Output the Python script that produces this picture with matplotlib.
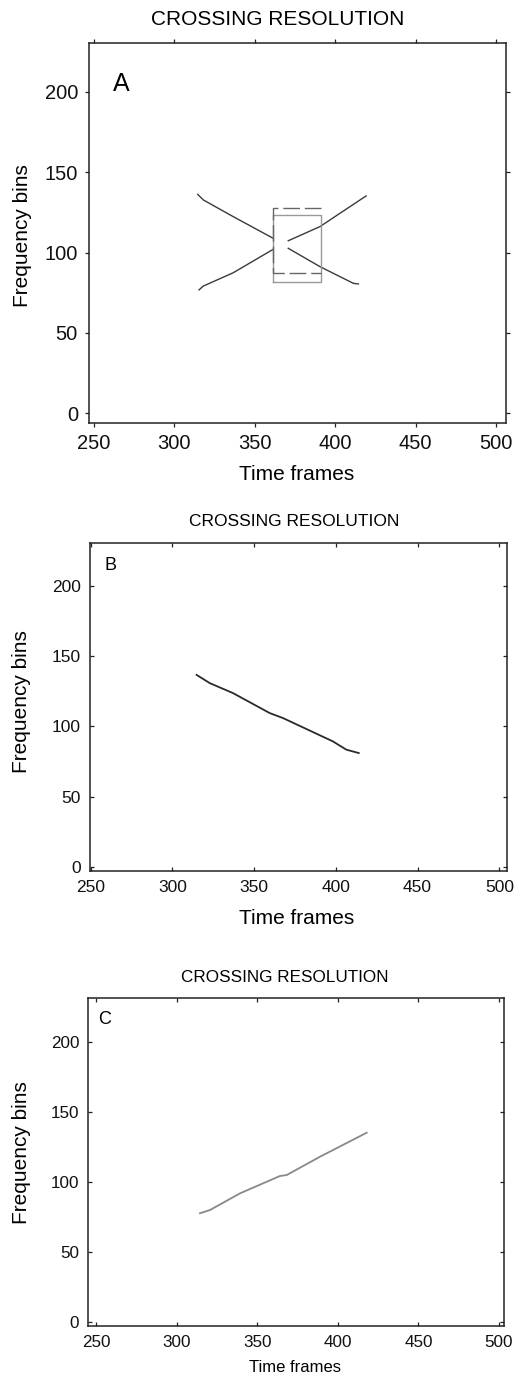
import matplotlib
matplotlib.use("Agg")
import matplotlib.pyplot as plt

plt.rcParams['font.family'] = ['Liberation Sans', 'DejaVu Sans']

W, H = 515, 1376

title = "CROSSING RESOLUTION"
xlab = "Time frames"
ylab = "Frequency bins"
xticks = [250, 300, 350, 400, 450, 500]
yticks = [0, 50, 100, 150, 200]

# panel A: the two crossing tracks, broken around the crossing
a_down_left_x = [314.5, 318, 336.6, 361.5]
a_down_left_y = [136.3, 132.8, 122.4, 108.9]
a_up_left_x = [315.3, 318, 336.6, 361.5]
a_up_left_y = [76.8, 79.2, 87.5, 102.1]
a_up_right_x = [370.8, 390.5, 419.2]
a_up_right_y = [107.4, 116.2, 135.3]
a_down_right_x = [370.8, 390.5, 411.3, 414.4]
a_down_right_y = [102.7, 91.3, 80.9, 80.5]

# panel A: crossing region boxes
solid_box_x = [361.5, 391, 391, 361.5, 361.5]
solid_box_y = [81.9, 81.9, 123.4, 123.4, 81.9]
dashed_box_x = [391, 361.5, 361.5, 391]
dashed_box_y = [128, 128, 87.1, 87.1]

# panel B: resolved descending track
b_x = [314.8, 322.9, 337.1, 359.5, 367.7, 398.2, 406.4, 414]
b_y = [136.7, 130.8, 123.7, 109.5, 105.9, 89.3, 83.4, 81]

# panel C: resolved ascending track
c_x = [314.5, 320.7, 339.3, 364.1, 368.3, 389, 417.9]
c_y = [77.9, 80.2, 92.1, 104.5, 105.2, 118.3, 135.4]


def fx(x):
    return x / W


def fy(y):
    return 1 - y / H


def make_axes(fig, l, t, r, b, xlim, ylim, tdir, tsize, pad):
    ax = fig.add_axes([fx(l), fy(b), (r - l) / W, (b - t) / H])
    ax.set_xlim(*xlim)
    ax.set_ylim(*ylim)
    ax.set_xticks(xticks)
    ax.set_yticks(yticks)
    ax.tick_params(direction=tdir, top=True, right=True, length=3,
                   width=0.9, color='#222222', labelsize=tsize, pad=pad,
                   labelcolor='#111111')
    for s in ax.spines.values():
        s.set_linewidth(1.1)
        s.set_color('#222222')
    return ax


fig = plt.figure(figsize=(W / 100, H / 100), dpi=100)

# ---- A ----
axA = make_axes(fig, 89, 43.3, 506, 422.7, (246.9, 506.2), (-5.85, 230.3),
                'out', 14.5, 5)
line_c = '#3a3a3a'
axA.plot(a_down_left_x, a_down_left_y, color=line_c, lw=1.0)
axA.plot(a_up_left_x, a_up_left_y, color=line_c, lw=1.0)
axA.plot(a_up_right_x, a_up_right_y, color=line_c, lw=1.0)
axA.plot(a_down_right_x, a_down_right_y, color=line_c, lw=1.0)
axA.plot(solid_box_x, solid_box_y, color='#999999', lw=1.0)
dl, = axA.plot(dashed_box_x, dashed_box_y, color='#666666', lw=1.0)
dl.set_dashes([12, 3.5])
fig.text(fx(121.5), fy(84), "A", fontsize=18, ha='center', va='center')
fig.text(fx(278), fy(19.5), title, fontsize=15, ha='center', va='center')
fig.text(fx(297), fy(474), xlab, fontsize=15, ha='center', va='center')
fig.text(fx(22.5), fy(236), ylab, fontsize=15, ha='center', va='center',
         rotation=90)

# ---- B ----
axB = make_axes(fig, 90, 542.7, 506.7, 870.7, (249.6, 504.5), (-2.85, 230.9),
                'in', 12.5, 6.5)
axB.plot(b_x, b_y, color='#2a2a2a', lw=1.3)
fig.text(fx(110), fy(565), "B", fontsize=13, ha='center', va='center')
fig.text(fx(294), fy(521), title, fontsize=12.5, ha='center', va='center')
fig.text(fx(296.5), fy(919), xlab, fontsize=15, ha='center', va='center')
fig.text(fx(22), fy(702), ylab, fontsize=15, ha='center', va='center',
         rotation=90)

# ---- C ----
axC = make_axes(fig, 88.3, 998.3, 504, 1325.7, (245.2, 503.1), (-2.4, 231.4),
                'in', 12.3, 6.5)
axC.plot(c_x, c_y, color='#888888', lw=1.3)
fig.text(fx(105), fy(1020), "C", fontsize=13, ha='center', va='center')
fig.text(fx(285), fy(977.5), title, fontsize=12.3, ha='center', va='center')
fig.text(fx(295), fy(1368), xlab, fontsize=12, ha='center', va='center')
fig.text(fx(22), fy(1153), ylab, fontsize=15, ha='center', va='center',
         rotation=90)

fig.savefig("out.png", dpi=100)
